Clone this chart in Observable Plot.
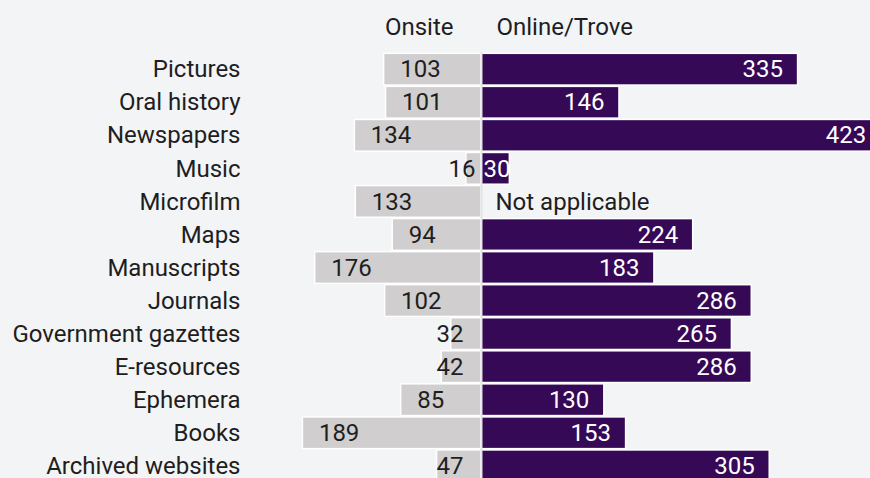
<!DOCTYPE html>
<html><head><meta charset="utf-8">
<script src="https://cdn.jsdelivr.net/npm/d3@7"></script>
<script src="https://cdn.jsdelivr.net/npm/@observablehq/plot@0.6"></script>
<style>
html,body{margin:0;padding:0;background:#f3f4f6;overflow:hidden}
#chart svg{background:#f3f4f6;display:block}
</style></head><body><div id="chart"></div>
<script>
const categories = ["Pictures","Oral history","Newspapers","Music","Microfilm","Maps","Manuscripts","Journals","Government gazettes","E-resources","Ephemera","Books","Archived websites"];
const onsite = [103,101,134,16,133,94,176,102,32,42,85,189,47];
const online = [335,146,423,30,null,224,183,286,265,286,130,153,305];
const seriesLabels = ["Onsite","Online/Trove"];
const naLabel = "Not applicable";

const rows = categories.map((c, i) => ({cat: c, on: onsite[i], web: online[i]}));
const grey = "#d0cecf", purple = "#360957", ink = "#1e1e1e";
const W = 870, ML = 250, center = 481, k = 0.945;

const chart = Plot.plot({
  width: W, height: 483,
  marginLeft: ML, marginRight: 0, marginTop: 52, marginBottom: 0,
  style: {fontFamily: "Roboto, sans-serif", fontSize: "24px", color: ink, background: "#f3f4f6"},
  x: {domain: [-(center - ML) / k, (W - center) / k], axis: null},
  y: {domain: categories, padding: 0.04, round: false, axis: null},
  marks: [
    Plot.axisY({tickSize: 0, tickPadding: 10, label: null, fontSize: 24, fill: ink}),
    Plot.barX(rows, {y: "cat", x1: d => -d.on, x2: 0, fill: grey, stroke: "white", strokeWidth: 1.5}),
    Plot.barX(rows.filter(d => d.web != null), {y: "cat", x1: 0, x2: "web", fill: purple, stroke: "white", strokeWidth: 1.5}),
    Plot.ruleX([0], {stroke: "#e4e4e4", strokeWidth: 2}),
    // onsite labels
    Plot.text(rows.filter(d => d.on >= 50), {y: "cat", x: d => -d.on, text: d => String(d.on), textAnchor: "start", dx: 16, fill: ink}),
    Plot.text(rows.filter(d => d.on < 50 && d.on >= 20), {y: "cat", x: 0, text: d => String(d.on), textAnchor: "end", dx: -18, fill: ink}),
    Plot.text(rows.filter(d => d.on < 20), {y: "cat", x: 0, text: d => String(d.on), textAnchor: "end", dx: -6, fill: ink}),
    // online labels
    Plot.text(rows.filter(d => d.web != null && d.web >= 50), {y: "cat", x: "web", text: d => String(d.web), textAnchor: "end", dx: -15, fill: "white"}),
    Plot.text(rows.filter(d => d.web != null && d.web < 50), {y: "cat", x: 0, text: d => String(d.web), textAnchor: "start", dx: 2, fill: "white"}),
    Plot.text(rows.filter(d => d.web == null), {y: "cat", x: 0, text: () => naLabel, textAnchor: "start", dx: 14, fill: ink}),
    // headers
    Plot.text([seriesLabels[0]], {x: 0, frameAnchor: "top", lineAnchor: "middle", dy: -25, dx: -28, textAnchor: "end", fill: ink}),
    Plot.text([seriesLabels[1]], {x: 0, frameAnchor: "top", lineAnchor: "middle", dy: -25, dx: 15, textAnchor: "start", fill: ink})
  ]
});
document.getElementById("chart").append(chart);
</script></body></html>
